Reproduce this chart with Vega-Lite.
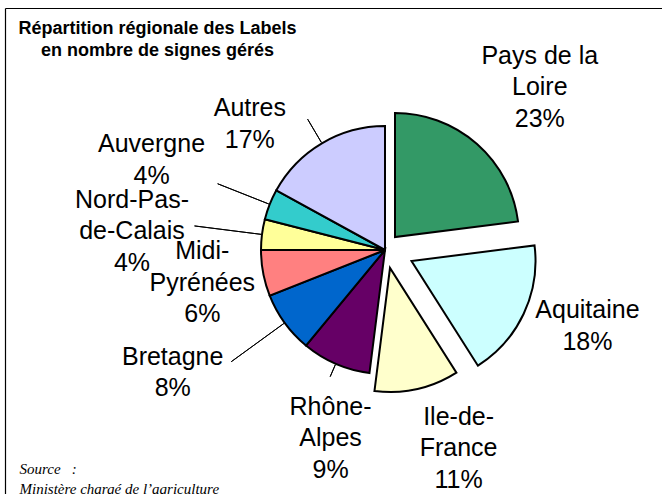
{
  "$schema": "https://vega.github.io/schema/vega-lite/v6.json",
  "width": 657,
  "height": 486,
  "autosize": {"type": "none"},
  "padding": {"left": 5, "top": 8, "right": 0, "bottom": 0},
  "background": "white",
  "config": {"view": {"stroke": null}, "font": "Liberation Sans"},
  "data": {
    "values": [
      {"region": "Pays de la Loire", "libelle": "Pays de la\nLoire", "pct": 23},
      {"region": "Aquitaine", "libelle": "Aquitaine", "pct": 18},
      {"region": "Ile-de-France", "libelle": "Ile-de-\nFrance", "pct": 11},
      {"region": "Rhône-Alpes", "libelle": "Rhône-\nAlpes", "pct": 9},
      {"region": "Bretagne", "libelle": "Bretagne", "pct": 8},
      {"region": "Midi-Pyrénées", "libelle": "Midi-\nPyrénées", "pct": 6},
      {"region": "Nord-Pas-de-Calais", "libelle": "Nord-Pas-\nde-Calais", "pct": 4},
      {"region": "Auvergne", "libelle": "Auvergne", "pct": 4},
      {"region": "Autres", "libelle": "Autres", "pct": 17}
    ]
  },
  "transform": [
    {"stack": "pct", "groupby": [], "as": ["v0", "v1"]},
    {"calculate": "(datum.v0 + datum.v1) / 2", "as": "mid"},
    {"calculate": "datum.libelle + '\\n' + datum.pct + '%'", "as": "texte"}
  ],
  "encoding": {
    "x": {
      "datum": 0,
      "type": "quantitative",
      "scale": {"domain": [-380, 277], "nice": false, "zero": false},
      "axis": {
        "orient": "top",
        "domain": true,
        "domainColor": "#000",
        "domainWidth": 1.2,
        "ticks": false,
        "labels": false,
        "grid": false,
        "title": ["Répartition régionale des Labels", "en nombre de signes gérés"],
        "titleFont": "Liberation Sans",
        "titleFontSize": 18,
        "titleFontWeight": "bold",
        "titleColor": "#000",
        "titleAlign": "center",
        "titleBaseline": "alphabetic",
        "titleX": 152,
        "titleY": 25,
        "titleLineHeight": 22.5
      }
    },
    "y": {
      "datum": 0,
      "type": "quantitative",
      "scale": {"domain": [-244, 242], "nice": false, "zero": false},
      "axis": {
        "orient": "left",
        "domain": true,
        "domainColor": "#000",
        "domainWidth": 1.2,
        "ticks": false,
        "labels": false,
        "grid": false,
        "title": ["Source\u00a0\u00a0\u00a0:", "Ministère chargé de l’agriculture"],
        "titleFont": "Liberation Serif",
        "titleFontSize": 15,
        "titleFontStyle": "italic",
        "titleFontWeight": "normal",
        "titleColor": "#000",
        "titleAngle": 0,
        "titleAlign": "left",
        "titleBaseline": "alphabetic",
        "titleX": 14,
        "titleY": 465,
        "titleLineHeight": 20.5
      }
    },
    "color": {
      "field": "region",
      "type": "nominal",
      "scale": {
        "domain": ["Pays de la Loire", "Aquitaine", "Ile-de-France", "Rhône-Alpes", "Bretagne", "Midi-Pyrénées", "Nord-Pas-de-Calais", "Auvergne", "Autres"],
        "range": ["#339966", "#CCFFFF", "#FFFFCC", "#660066", "#0066CC", "#FF8080", "#FFFF99", "#33CCCC", "#CCCCFF"]
      },
      "legend": null
    }
  },
  "layer": [
    {
      "transform": [{"filter": {"not": {"field": "region", "oneOf": ["Pays de la Loire", "Aquitaine", "Ile-de-France"]}}}],
      "mark": {"type": "arc", "outerRadius": 124, "stroke": "#000", "strokeWidth": 2},
      "encoding": {
        "theta": {"field": "v0", "type": "quantitative", "scale": {"domain": [0, 100], "range": [0, 6.283185307], "nice": false}},
        "theta2": {"field": "v1"}
      }
    },
    {
      "transform": [{"filter": {"field": "region", "equal": "Pays de la Loire"}}],
      "mark": {"type": "arc", "outerRadius": 124, "stroke": "#000", "strokeWidth": 2, "xOffset": 10, "yOffset": -13},
      "encoding": {
        "theta": {"field": "v0", "type": "quantitative", "scale": {"domain": [0, 100], "range": [0, 6.283185307], "nice": false}},
        "theta2": {"field": "v1"}
      }
    },
    {
      "transform": [{"filter": {"field": "region", "equal": "Aquitaine"}}],
      "mark": {"type": "arc", "outerRadius": 124, "stroke": "#000", "strokeWidth": 2, "xOffset": 26.5, "yOffset": 11},
      "encoding": {
        "theta": {"field": "v0", "type": "quantitative", "scale": {"domain": [0, 100], "range": [0, 6.283185307], "nice": false}},
        "theta2": {"field": "v1"}
      }
    },
    {
      "transform": [{"filter": {"field": "region", "equal": "Ile-de-France"}}],
      "mark": {"type": "arc", "outerRadius": 124, "stroke": "#000", "strokeWidth": 2, "xOffset": 5, "yOffset": 18},
      "encoding": {
        "theta": {"field": "v0", "type": "quantitative", "scale": {"domain": [0, 100], "range": [0, 6.283185307], "nice": false}},
        "theta2": {"field": "v1"}
      }
    },
    {
      "transform": [{"filter": {"field": "region", "oneOf": ["Autres", "Auvergne", "Nord-Pas-de-Calais", "Bretagne", "Rhône-Alpes"]}}],
      "mark": {
        "type": "arc",
        "innerRadius": 125,
        "outerRadius": {"expr": "{'Autres': 152, 'Auvergne': 180, 'Nord-Pas-de-Calais': 192, 'Bretagne': 190, 'Rhône-Alpes': 138}[datum.region]"},
        "filled": false,
        "stroke": "#000",
        "strokeWidth": 1
      },
      "encoding": {
        "theta": {"field": "mid", "type": "quantitative", "scale": {"domain": [0, 100], "range": [0, 6.283185307], "nice": false}},
        "theta2": {"field": "mid"},
        "color": {"value": "#000"}
      }
    },
    {
      "mark": {
        "type": "text",
        "font": "Liberation Sans",
        "fontSize": 25,
        "lineHeight": 31.5,
        "lineBreak": "\n",
        "align": "center",
        "baseline": "middle",
        "radius": {"expr": "{'Pays de la Loire': 225, 'Aquitaine': 216, 'Ile-de-France': 209, 'Rhône-Alpes': 196, 'Bretagne': 245, 'Midi-Pyrénées': 186, 'Nord-Pas-de-Calais': 254, 'Auvergne': 250, 'Autres': 185}[datum.region]"},
        "dx": {"expr": "{'Pays de la Loire': 6, 'Aquitaine': 7, 'Ile-de-France': 28, 'Rhône-Alpes': 23.4, 'Bretagne': -14.1, 'Midi-Pyrénées': 0, 'Nord-Pas-de-Calais': -1, 'Auvergne': -1, 'Autres': -41}[datum.region]"},
        "dy": {"expr": "{'Pays de la Loire': -25.5, 'Aquitaine': -31.7, 'Ile-de-France': -37, 'Rhône-Alpes': -23.1, 'Bretagne': -37.5, 'Midi-Pyrénées': -33.5, 'Nord-Pas-de-Calais': -18.5, 'Auvergne': -13.7, 'Autres': 17.3}[datum.region]"}
      },
      "encoding": {
        "theta": {"field": "mid", "type": "quantitative", "scale": {"domain": [0, 100], "range": [0, 6.283185307], "nice": false}},
        "text": {"field": "texte"},
        "color": {"value": "#000"}
      }
    }
  ]
}
